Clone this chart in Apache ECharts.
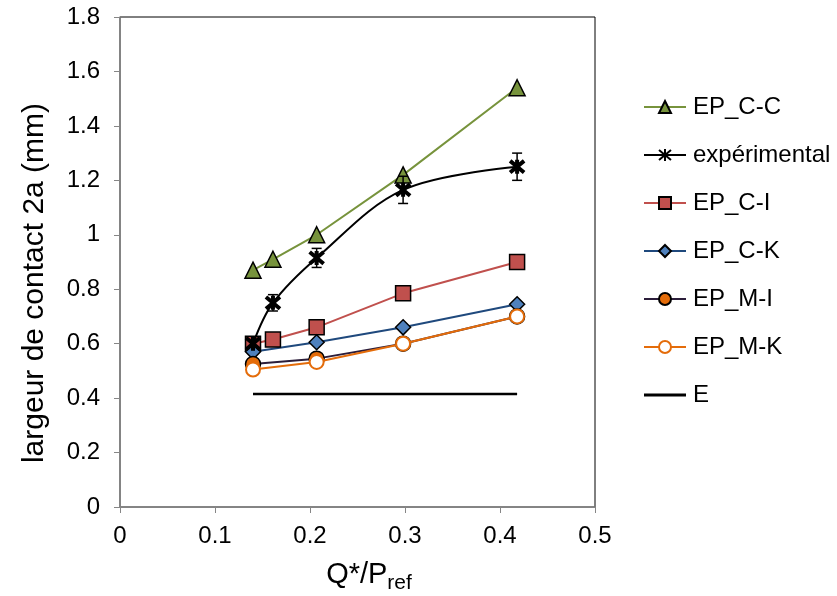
<!DOCTYPE html>
<html><head><meta charset="utf-8">
<script src="https://cdn.jsdelivr.net/npm/echarts@6/dist/echarts.min.js"></script>
<style>html,body{margin:0;padding:0;background:#fff}#c{width:837px;height:596px}</style>
</head><body><div id="c"></div>
<script>
const xCC = [0.14, 0.161, 0.207, 0.298, 0.418];
const yCC = [0.87, 0.91, 1.0, 1.22, 1.54];
const xExp = [0.14, 0.161, 0.207, 0.298, 0.418];
const yExp = [0.60, 0.75, 0.915, 1.165, 1.25];
const errExp = [0, 0.03, 0.035, 0.05, 0.05];
const xCI = [0.14, 0.161, 0.207, 0.298, 0.418];
const yCI = [0.60, 0.615, 0.66, 0.785, 0.90];
const xCK = [0.14, 0.207, 0.298, 0.418];
const yCK = [0.57, 0.605, 0.66, 0.745];
const xMI = [0.14, 0.207, 0.298, 0.418];
const yMI = [0.525, 0.545, 0.60, 0.70];
const xMK = [0.14, 0.207, 0.298, 0.418];
const yMK = [0.505, 0.533, 0.60, 0.70];
const xE = [0.14, 0.418];
const yE = [0.415, 0.415];
const xTicks = [0, 0.1, 0.2, 0.3, 0.4, 0.5];
const yTicks = [0, 0.2, 0.4, 0.6, 0.8, 1, 1.2, 1.4, 1.6, 1.8];

const pts = (xs, ys) => xs.map((x, i) => [x, ys[i]]);
const FONT = '"Liberation Sans", Arial, sans-serif';
const chart = echarts.init(document.getElementById('c'));
const starPath = 'path://M0,0L10,10M10,0L0,10M5,-1L5,11';

chart.setOption({
  animation: false,
  textStyle: { fontFamily: FONT },
  grid: { left: 120, right: 242, top: 17, bottom: 89, outerBoundsMode: 'none', containLabel: false, show: true, borderColor: '#000', borderWidth: 1, backgroundColor: 'transparent' },
  xAxis: {
    type: 'value', min: 0, max: 0.5, interval: 0.1,
    axisLine: { show: true, lineStyle: { color: '#868686', width: 1.5 } },
    axisTick: { show: true, inside: false, length: 6, lineStyle: { color: '#868686' } },
    splitLine: { show: false },
    axisLabel: { color: '#000', fontSize: 24, margin: 17, formatter: v => String(Number(v.toFixed(1))) },
    name: '{a|Q*/P}{s|ref}', nameLocation: 'middle', nameGap: 49,
    nameTextStyle: { padding: [0, 0, 0, 23], rich: { a: { fontSize: 29, color: '#000', fontFamily: FONT }, s: { fontSize: 21, color: '#000', fontFamily: FONT, padding: [17, 0, 0, 0] } } }
  },
  yAxis: {
    type: 'value', min: 0, max: 1.8, interval: 0.2,
    axisLine: { show: true, lineStyle: { color: '#868686', width: 1.5 } },
    axisTick: { show: true, inside: false, length: 6, lineStyle: { color: '#868686' } },
    splitLine: { show: false },
    axisLabel: { color: '#000', fontSize: 24, margin: 20, formatter: v => String(Number(v.toFixed(1))) },
    name: 'largeur de contact 2a (mm)', nameLocation: 'middle', nameGap: 70, nameRotate: 90,
    nameTextStyle: { fontSize: 30, color: '#000', padding: [0, 42, 0, 0] }
  },
  legend: {
    orient: 'vertical', left: 638, top: 90, itemGap: 24, itemWidth: 42, itemHeight: 15,
    textStyle: { fontSize: 24, color: '#000', fontFamily: FONT, padding: [0, 0, 0, 2] },
    data: ['EP_C-C', 'expérimental', 'EP_C-I', 'EP_C-K', 'EP_M-I', 'EP_M-K', { name: 'E', icon: 'path://M0,0H42V3H0Z' }]
  },
  series: [
    { name: 'E', type: 'line', data: pts(xE, yE), symbol: 'none', lineStyle: { color: '#000', width: 2.5 }, itemStyle: { color: '#000' }, z: 2 },
    { name: 'EP_C-C', type: 'line', data: pts(xCC, yCC), symbol: 'triangle', symbolSize: 16,
      lineStyle: { color: '#77933C', width: 2 }, itemStyle: { color: '#77933C', borderColor: '#000', borderWidth: 1.5 }, z: 3 },
    { name: 'EP_C-I', type: 'line', data: pts(xCI, yCI), symbol: 'rect', symbolSize: 15,
      lineStyle: { color: '#C0504D', width: 2 }, itemStyle: { color: '#C0504D', borderColor: '#000', borderWidth: 1.5 }, z: 3 },
    { name: 'EP_C-K', type: 'line', data: pts(xCK, yCK), symbol: 'diamond', symbolSize: 15,
      lineStyle: { color: '#1F497D', width: 2 }, itemStyle: { color: '#4F81BD', borderColor: '#000', borderWidth: 1.5 }, z: 3 },
    { name: 'EP_M-I', type: 'line', data: pts(xMI, yMI), symbol: 'circle', symbolSize: 15,
      lineStyle: { color: '#2b1d3a', width: 2 }, itemStyle: { color: '#E46C0A', borderColor: '#000', borderWidth: 1.5 }, z: 3 },
    { name: 'EP_M-K', type: 'line', data: pts(xMK, yMK), symbol: 'emptyCircle', symbolSize: 14,
      lineStyle: { color: '#E46C0A', width: 2 }, itemStyle: { color: '#E46C0A', borderColor: '#E46C0A', borderWidth: 2 }, z: 4 },
    { name: 'expérimental', type: 'line', data: pts(xExp, yExp), smooth: 0.35, symbol: starPath, symbolSize: 14,
      lineStyle: { color: '#000', width: 2 }, itemStyle: { color: '#000', borderColor: '#000', borderWidth: 4 }, z: 5 },
    { name: 'expErr', type: 'custom', z: 6, silent: true,
      data: xExp.map((x, i) => [x, yExp[i], errExp[i]]),
      renderItem: function (params, api) {
        const x = api.value(0), y = api.value(1), e = api.value(2);
        if (!e) return null;
        const top = api.coord([x, y + e]);
        const bot = api.coord([x, y - e]);
        const w = 5;
        const st = { stroke: '#000', lineWidth: 1.5 };
        return { type: 'group', children: [
          { type: 'line', shape: { x1: top[0], y1: top[1], x2: bot[0], y2: bot[1] }, style: st },
          { type: 'line', shape: { x1: top[0] - w, y1: top[1], x2: top[0] + w, y2: top[1] }, style: st },
          { type: 'line', shape: { x1: bot[0] - w, y1: bot[1], x2: bot[0] + w, y2: bot[1] }, style: st }
        ] };
      }
    }
  ]
});
</script></body></html>
